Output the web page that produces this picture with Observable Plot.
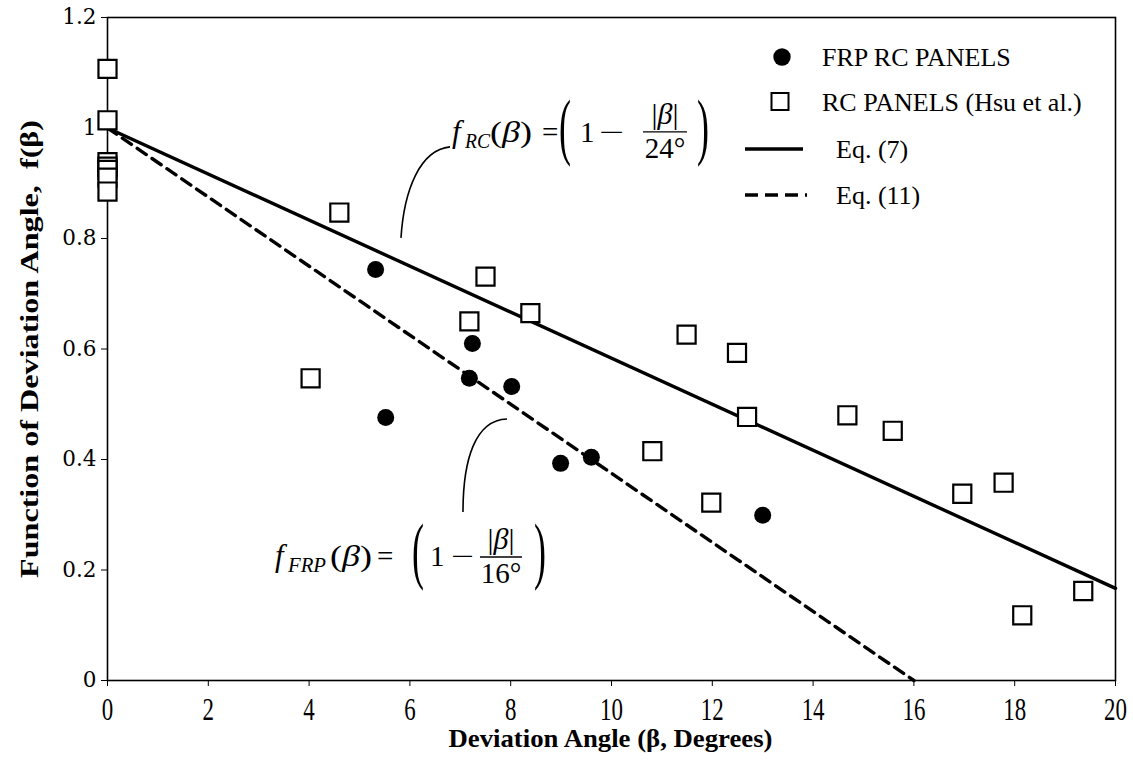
<!DOCTYPE html>
<html><head><meta charset="utf-8">
<script src="https://cdn.jsdelivr.net/npm/d3@7"></script>
<script src="https://cdn.jsdelivr.net/npm/@observablehq/plot@0.6"></script>
<style>
html,body{margin:0;padding:0;background:#fff;}
</style></head><body><div id="chart"></div>
<script>
// FRP RC panels (filled circles)
const frpBeta = [5.32, 5.52, 7.24, 7.18, 8.02, 8.99, 9.60, 13.0];
const frpF    = [0.744, 0.476, 0.610, 0.547, 0.532, 0.393, 0.404, 0.299];
// RC panels, Hsu et al. (open squares)
const rcBeta = [0, 0, 0, 0, 0, 0, 0, 4.03, 4.60, 7.50, 7.18, 8.39, 11.49, 12.49, 12.69, 10.81, 11.98, 14.68, 15.58, 16.96, 17.78, 18.15, 19.36];
const rcF    = [1.107, 1.014, 0.938, 0.930, 0.924, 0.910, 0.885, 0.547, 0.847, 0.731, 0.650, 0.665, 0.626, 0.593, 0.477, 0.415, 0.322, 0.480, 0.452, 0.338, 0.358, 0.118, 0.162];
// Eq. (7) and Eq. (11) end points
const eq7Beta  = [0, 20];
const eq7F     = [1, 0.1667];
const eq11Beta = [0, 16];
const eq11F    = [1, 0];
// ticks
const xTicks = [0, 2, 4, 6, 8, 10, 12, 14, 16, 18, 20];
const yTicks = [0, 0.2, 0.4, 0.6, 0.8, 1.0, 1.2];
const xTitle = "Deviation Angle (\u03B2, Degrees)";
const yTitle = "Function of Deviation Angle,\u00A0\u00A0f(\u03B2)";
const legendLabels = ["FRP RC PANELS", "RC PANELS (Hsu et al.)", "Eq. (7)", "Eq. (11)"];

const frp = frpBeta.map((b, i) => ({b, f: frpF[i]}));
const rc = rcBeta.map((b, i) => ({b, f: rcF[i]}));
const eq7 = eq7Beta.map((b, i) => ({b, f: eq7F[i]}));
const eq11 = eq11Beta.map((b, i) => ({b, f: eq11F[i]}));

const serif = "'Liberation Serif', 'Times New Roman', serif";

const plot = Plot.plot({
  width: 1133, height: 763,
  marginLeft: 107, marginRight: 18, marginTop: 17, marginBottom: 83,
  style: {fontFamily: serif, fontSize: "22px", color: "#000", background: "#fff"},
  x: {domain: [0, 20]},
  y: {domain: [0, 1.2]},
  marks: [
    Plot.axisX({ticks: xTicks, tickSize: 6, tickPadding: 11, fontSize: 31, label: null, tickFormat: d => String(d)}),
    Plot.axisY({ticks: yTicks, tickSize: 6, tickPadding: 5, fontSize: 21.5, fontFamily: "'DejaVu Serif', serif", label: null, tickFormat: d => String(+d.toFixed(1))}),
    Plot.frame({stroke: "#000", strokeWidth: 1.6}),
    Plot.line(eq7, {x: "b", y: "f", stroke: "#000", strokeWidth: 3.4}),
    Plot.line(eq11, {x: "b", y: "f", stroke: "#000", strokeWidth: 3.4, strokeDasharray: "11,7"}),
    Plot.dot(frp, {x: "b", y: "f", r: 8.5, fill: "#000", stroke: "none", symbol: "circle"}),
    Plot.dot(rc, {x: "b", y: "f", r: 10.2, symbol: "square", fill: "#fff", stroke: "#000", strokeWidth: 2.2}),
    Plot.text([xTitle], {frameAnchor: "bottom", dx: -163, dy: 66, textAnchor: "start", fontWeight: "bold", fontSize: 25, fill: "#000"}),
    Plot.text([yTitle], {frameAnchor: "left", dx: -78, dy: 229, rotate: -90, textAnchor: "start", fontWeight: "bold", fontSize: 25, fill: "#000"})
  ]
});
document.getElementById("chart").appendChild(plot);

const sx = plot.scale("x").apply, sy = plot.scale("y").apply;
const svg = d3.select(plot);

// condensed x tick labels, stretched titles (as in the reference)
svg.selectAll('g[aria-label="x-axis tick label"] text').each(function () {
  const tr = this.getAttribute("transform") || "";
  this.setAttribute("transform", tr + " scale(0.74,1)");
});
svg.selectAll("text").filter(function () { return this.textContent === yTitle; })
  .attr("textLength", 458).attr("lengthAdjust", "spacingAndGlyphs");
svg.selectAll("text").filter(function () { return this.textContent === xTitle; })
  .attr("textLength", 324).attr("lengthAdjust", "spacingAndGlyphs");

// Legend
const lg = svg.append("g").attr("font-family", serif).attr("fill", "#000").attr("text-anchor", "start");
lg.append("circle").attr("cx", 782).attr("cy", 57).attr("r", 8.7).attr("fill", "#000");
lg.append("text").attr("x", 822).attr("y", 57).attr("dy", "0.35em").attr("font-size", 26).text(legendLabels[0]);
lg.append("rect").attr("x", 771.5).attr("y", 93).attr("width", 17).attr("height", 17).attr("fill", "#fff").attr("stroke", "#000").attr("stroke-width", 2);
lg.append("text").attr("x", 822).attr("y", 102).attr("dy", "0.35em").attr("font-size", 26).text(legendLabels[1]);
lg.append("line").attr("x1", 745).attr("x2", 803).attr("y1", 149).attr("y2", 149).attr("stroke", "#000").attr("stroke-width", 3.5);
lg.append("text").attr("x", 836).attr("y", 149).attr("dy", "0.35em").attr("font-size", 26).text(legendLabels[2]);
lg.append("line").attr("x1", 745).attr("x2", 807).attr("y1", 195).attr("y2", 195).attr("stroke", "#000").attr("stroke-width", 3.5).attr("stroke-dasharray", "13,7");
lg.append("text").attr("x", 836).attr("y", 195).attr("dy", "0.35em").attr("font-size", 26).text(legendLabels[3]);

// Formula annotations
function formula(ax, ay, p) {
  const g = svg.append("g").attr("font-family", serif).attr("fill", "#000").attr("text-anchor", "start");
  const fs = 29;
  g.append("path").attr("d", `M${ax + p.curve[0]},${ay + p.curve[1]} C${ax + p.curve[2]},${ay + p.curve[3]} ${ax + p.curve[4]},${ay + p.curve[5]} ${ax + p.curve[6]},${ay + p.curve[7]}`)
    .attr("fill", "none").attr("stroke", "#000").attr("stroke-width", 1.6);
  const base = ay + p.base;
  g.append("text").attr("x", ax).attr("y", base).attr("font-size", fs + 2).attr("font-style", "italic").text("f");
  g.append("text").attr("x", ax + p.sub).attr("y", base + 6).attr("font-size", 20).attr("font-style", "italic")
    .attr("textLength", p.subW).attr("lengthAdjust", "spacingAndGlyphs").text(p.subText);
  const t = g.append("text").attr("x", ax + p.arg).attr("y", base).attr("font-size", fs)
    .attr("textLength", 42).attr("lengthAdjust", "spacingAndGlyphs");
  t.append("tspan").text("(");
  t.append("tspan").attr("font-style", "italic").text("\u03B2");
  t.append("tspan").text(")");
  g.append("text").attr("x", ax + p.eq).attr("y", base).attr("font-size", fs).text("=");
  const s = 2.05, pc = -0.235 * 36;
  g.append("text").attr("transform", `translate(${ax + p.lp},${ay + p.pc - pc * s}) scale(1,${s})`).attr("font-size", 36).text("(");
  g.append("text").attr("x", ax + p.one).attr("y", base).attr("font-size", fs).text("1");
  g.append("text").attr("x", ax + p.minus).attr("y", base).attr("font-size", fs)
    .attr("textLength", p.minusW).attr("lengthAdjust", "spacingAndGlyphs").text("\u2212");
  g.append("line").attr("x1", ax + p.fc - p.fw / 2).attr("x2", ax + p.fc + p.fw / 2).attr("y1", ay).attr("y2", ay).attr("stroke", "#000").attr("stroke-width", 1.4);
  const num = g.append("text").attr("x", ax + p.fc).attr("y", ay - 8).attr("font-size", 30).attr("text-anchor", "middle");
  num.append("tspan").text("|");
  num.append("tspan").attr("font-style", "italic").text("\u03B2");
  num.append("tspan").text("|");
  g.append("text").attr("x", ax + p.fc).attr("y", ay + 26).attr("font-size", fs).attr("text-anchor", "middle").text(p.den);
  g.append("text").attr("transform", `translate(${ax + p.rp},${ay + p.pc - pc * s}) scale(1,${s})`).attr("font-size", 36).text(")");
}

// f_RC anchored near (6.845, 0.992)
formula(sx(6.845), sy(0.992), {
  subText: "RC", subW: 25, den: "24\u00B0", base: 10, sub: 13, arg: 38, eq: 90, lp: 107, pc: 2, one: 128, minus: 147, minusW: 25,
  fc: 213, fw: 44, rp: 245,
  curve: [-51, 106, -48, 58, -32, 18, -2, 15]
});
// f_FRP anchored near (3.333, 0.2226)
formula(sx(3.333), sy(0.2226), {
  subText: "FRP", subW: 38, den: "16\u00B0", base: 9, sub: 13, arg: 55, eq: 102, lp: 137, pc: 1, one: 155, minus: 176, minusW: 23,
  fc: 226, fw: 42, rp: 259,
  curve: [188, -45, 188, -97, 200, -137, 232, -138]
});
</script>
</body></html>
